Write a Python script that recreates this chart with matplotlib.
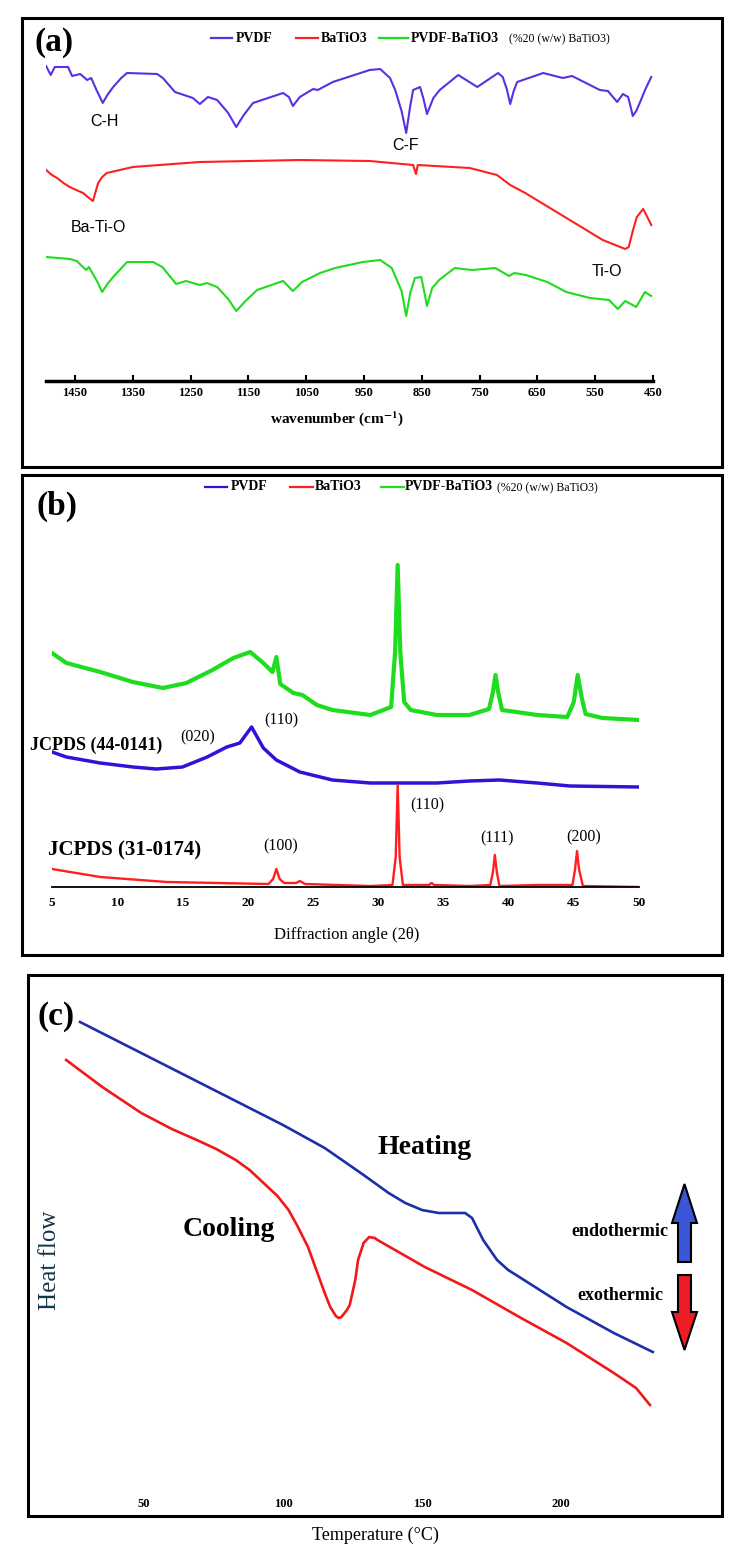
import numpy as np
import matplotlib
matplotlib.use("Agg")
import matplotlib.pyplot as plt
from matplotlib.patches import Rectangle, Polygon
from matplotlib.lines import Line2D

plt.rcParams['font.family'] = ['Liberation Serif', 'DejaVu Serif']
plt.rcParams['mathtext.fontset'] = 'stix'

W, H = 739, 1562

# ---------------- (a) FTIR, wavenumber (cm-1) vs transmittance (a.u.)
ftir_pvdf_wn = [1500, 1492, 1485, 1462, 1455, 1441, 1429, 1422, 1412, 1402, 1394, 1384, 1370, 1360, 1308,
                1298, 1277, 1246, 1234, 1220, 1204, 1185, 1171, 1158, 1142, 1090, 1080, 1073, 1061, 1038,
                1030, 1004, 940, 922, 905, 896, 885, 877, 870, 865, 853, 847, 841, 830, 819, 787, 754,
                718, 710, 703, 697, 691, 685, 640, 606, 590, 542, 528, 512, 502, 493, 489, 485, 479,
                473, 463, 453]
ftir_pvdf = [315, 306, 314, 314, 305, 307, 301, 303, 290, 278, 286, 294, 303, 308, 307,
             303, 289, 283, 277, 284, 281, 268, 254, 266, 278, 288, 284, 275, 284, 292,
             291, 299, 311, 312, 303, 291, 270, 248, 275, 291, 294, 282, 267, 283, 291, 306, 294,
             308, 304, 292, 277, 290, 299, 308, 303, 305, 291, 290, 279, 287, 284, 275, 265, 270,
             278, 292, 304]

ftir_bto_wn = [1500, 1490, 1481, 1470, 1459, 1448, 1436, 1428, 1419, 1414, 1410, 1403, 1395, 1350, 1234,
               1061, 940, 865, 860, 857, 767, 720, 697, 671, 594, 537, 498, 492, 485, 478, 467, 459,
               453]
ftir_bto = [211, 206, 203, 198, 194, 191, 188, 184, 180, 190, 198, 204, 208, 214, 219,
            221, 220, 216, 207, 216, 213, 206, 196, 188, 161, 141, 132, 134, 150, 164, 172, 163,
            156]

ftir_comp_wn = [1500, 1459, 1447, 1431, 1426, 1412, 1403, 1394, 1384, 1360, 1315, 1299, 1275, 1258, 1234,
                1222, 1204, 1185, 1171, 1155, 1135, 1090, 1073, 1057, 1026, 1000, 952, 922, 902, 885,
                877, 870, 862, 851, 846, 841, 832, 820, 793, 763, 723, 699, 690, 670, 633, 600, 559,
                526, 511, 498, 479, 464, 453]
ftir_comp = [124, 122, 120, 111, 114, 100, 89, 97, 104, 119, 119, 114, 97, 100, 96,
             98, 94, 82, 70, 80, 91, 100, 90, 99, 108, 113, 119, 121, 113, 90,
             65, 88, 103, 104, 90, 75, 93, 101, 113, 111, 113, 105, 108, 106, 99, 89, 83,
             81, 72, 80, 74, 89, 85]

ftir_ticks = [1450, 1350, 1250, 1150, 1050, 950, 850, 750, 650, 550, 450]

# ---------------- (b) XRD, 2theta vs intensity (a.u.)
xrd_comp_tt = [5.0, 6.1, 8.7, 11.2, 13.5, 15.3, 17.3, 18.9, 20.2, 21.2, 21.9, 22.2, 22.5, 23.5, 24.2,
               25.3, 26.5, 29.4, 31.0, 31.3, 31.5, 31.7, 32.0, 32.5, 34.5, 37.0, 38.5, 38.8, 39.0,
               39.2, 39.5, 42.2, 44.5, 45.0, 45.3, 45.6, 45.9, 47.2, 50.0]
xrd_comp = [234, 224, 215, 205, 199, 204, 217, 229, 235, 224, 215, 230, 203, 194, 192,
            182, 177, 172, 180, 235, 322, 235, 185, 177, 172, 172, 178, 195, 212,
            195, 177, 172, 170, 185, 212, 190, 173, 169, 167]

xrd_pvdf_tt = [5.0, 6.1, 8.7, 11.2, 13.0, 15.0, 16.9, 18.4, 19.4, 20.3, 21.2, 22.2, 24.0, 26.5, 29.4,
               34.5, 37.0, 39.3, 42.2, 44.7, 50.0]
xrd_pvdf = [135, 130, 124, 120, 118, 120, 130, 140, 144, 160, 139, 127, 115, 107, 104,
            104, 106, 107, 104, 101, 100]

xrd_bto_tt = [5.0, 8.7, 13.8, 21.6, 21.95, 22.2, 22.45, 22.8, 23.7, 24.0, 24.4, 29.4, 31.1, 31.35,
              31.5, 31.65, 31.9, 33.9, 34.1, 34.3, 37.0, 38.6, 38.8, 38.95, 39.1, 39.3, 42.2,
              44.9, 45.1, 45.25, 45.4, 45.7, 50.0]
xrd_bto = [18, 10, 5, 3, 8, 18, 8, 4, 4, 6, 3, 1, 2, 30,
           102, 30, 2, 2, 4, 2, 1, 2, 15, 32, 15, 1, 2,
           2, 18, 36, 18, 1, 0]

xrd_ticks = [5, 10, 15, 20, 25, 30, 35, 40, 45, 50]

# ---------------- (c) DSC, temperature (C) vs heat flow (a.u.)
dsc_heat_T = [27, 66, 100, 115, 129, 138, 144, 150, 156, 165.5, 168, 172, 177, 181, 185, 202, 219, 233]
dsc_heat = [473, 418, 370, 347, 320, 302, 292, 285, 282, 282, 277, 255, 235, 225, 218, 188, 162, 143]

dsc_cool_T = [22, 35, 49, 60, 69, 76, 83, 88, 93, 98, 102, 105, 109, 112, 115, 117, 119, 120, 121,
              123, 124, 126, 127, 129, 131, 133, 134, 151, 168, 185, 202, 219, 227, 232]
dsc_cool = [435, 408, 382, 366, 355, 346, 335, 325, 312, 299, 285, 270, 248, 225, 202, 188, 179, 177, 178,
            185, 190, 215, 235, 252, 258, 257, 255, 228, 205, 178, 152, 122, 107, 90]

dsc_ticks = [50, 100, 150, 200]


def fx(x):
    return x / W


def fy(y):
    return 1 - y / H


def ptext(x, y, s, **kw):
    kw.setdefault('ha', 'center')
    kw.setdefault('va', 'center')
    fig.text(fx(x), fy(y), s, **kw)


def pline(x0, x1, y, c, lw=1.6):
    fig.lines.append(Line2D([fx(x0), fx(x1)], [fy(y), fy(y)], transform=fig.transFigure, color=c, lw=lw))


fig = plt.figure(figsize=(W / 100, H / 100), dpi=100)

# panel frames
for x0, y0, x1, y1 in [(22, 18, 722, 467), (22, 475, 722, 955), (28, 975, 722, 1516)]:
    fig.patches.append(Rectangle((fx(x0), fy(y1)), (x1 - x0) / W, (y1 - y0) / H,
                                 transform=fig.transFigure, fill=False, lw=2.2, ec='black'))

purple = '#5b2fe3'
red = '#ff1f1f'
green = '#1edc1e'

# ================= (a)
ax_a = fig.add_axes([fx(46.1), fy(381), (653 - 46.1) / W, (381 - 40) / H])
ax_a.plot(ftir_pvdf_wn, ftir_pvdf, color=purple, lw=1.5)
ax_a.plot(ftir_bto_wn, ftir_bto, color=red, lw=1.5)
ax_a.plot(ftir_comp_wn, ftir_comp, color=green, lw=1.5)
ax_a.set_xlim(1500, 450)
ax_a.set_ylim(0, 341)
for s in ['top', 'left', 'right']:
    ax_a.spines[s].set_visible(False)
ax_a.spines['bottom'].set_linewidth(2.5)
ax_a.set_yticks([])
ax_a.set_xticks(ftir_ticks)
ax_a.set_xticklabels([str(t) for t in ftir_ticks], fontsize=9, fontweight='bold')
ax_a.tick_params(axis='x', direction='in', length=4, width=1.5, pad=4)
ax_a.patch.set_alpha(0)

ptext(54, 43, '(a)', fontsize=24, fontweight='bold')
pline(211, 232, 38, purple)
ptext(236, 38, 'PVDF', ha='left', fontsize=10, fontweight='bold')
pline(296, 318, 38, red)
ptext(321, 38, 'BaTiO3', ha='left', fontsize=10, fontweight='bold')
pline(379, 408, 38, green)
ptext(411, 38, 'PVDF-BaTiO3', ha='left', fontsize=10, fontweight='bold')
ptext(509, 39, '(%20 (w/w) BaTiO3)', ha='left', fontsize=8.5)

for x, y, s in [(104, 122, 'C-H'), (406, 145, 'C-F'), (98, 227, 'Ba-Ti-O'), (607, 272, 'Ti-O')]:
    ptext(x, y, s, fontsize=11.5, family='Liberation Sans')
ptext(337, 419, r'wavenumber (cm$^{\mathbf{-1}}$)', fontsize=11, fontweight='bold')

# ================= (b)
blue_b = '#2e14d6'
ax_b = fig.add_axes([fx(52), fy(887), 587 / W, (887 - 540) / H])
ax_b.plot(xrd_comp_tt, xrd_comp, color=green, lw=3.0)
ax_b.plot(xrd_pvdf_tt, xrd_pvdf, color=blue_b, lw=2.5)
ax_b.plot(xrd_bto_tt, xrd_bto, color=red, lw=1.7)
ax_b.set_xlim(5, 50)
ax_b.set_ylim(0, 347)
for s in ['top', 'left', 'right']:
    ax_b.spines[s].set_visible(False)
ax_b.spines['bottom'].set_linewidth(1.3)
ax_b.set_yticks([])
ax_b.set_xticks(xrd_ticks)
ax_b.set_xticklabels([str(t) for t in xrd_ticks], fontsize=9.5, fontweight='bold')
ax_b.tick_params(axis='x', length=0, pad=7)
ax_b.patch.set_alpha(0)

ptext(57, 506, '(b)', fontsize=24, fontweight='bold')
pline(205, 227, 487, blue_b)
ptext(231, 487, 'PVDF', ha='left', fontsize=10, fontweight='bold')
pline(290, 313, 487, red)
ptext(315, 487, 'BaTiO3', ha='left', fontsize=10, fontweight='bold')
pline(381, 404, 487, green)
ptext(405, 487, 'PVDF-BaTiO3', ha='left', fontsize=10, fontweight='bold')
ptext(497, 488, '(%20 (w/w) BaTiO3)', ha='left', fontsize=8.5)

ptext(30, 745, 'JCPDS (44-0141)', ha='left', fontsize=13, fontweight='bold')
ptext(180, 737, '(020)', ha='left', fontsize=11.5)
ptext(281, 720, '(110)', fontsize=11.5)
ptext(48, 850, 'JCPDS (31-0174)', ha='left', fontsize=15, fontweight='bold')
ptext(281, 846, '(100)', fontsize=11.5)
ptext(427, 805, '(110)', fontsize=11.5)
ptext(497, 838, '(111)', fontsize=11.5)
ptext(584, 837, '(200)', fontsize=11.5)
ptext(347, 935, 'Diffraction angle (2θ)', fontsize=12)

# ================= (c)
blue_c = '#1c2fa8'
red_c = '#f21818'
ax_c = fig.add_axes([fx(60.6), fy(1495), (700 - 60.6) / W, (1495 - 1000) / H])
ax_c.plot(dsc_heat_T, dsc_heat, color=blue_c, lw=1.9)
ax_c.plot(dsc_cool_T, dsc_cool, color=red_c, lw=1.9)
ax_c.set_xlim(20, 250)
ax_c.set_ylim(0, 495)
for s in ax_c.spines.values():
    s.set_visible(False)
ax_c.set_yticks([])
ax_c.set_xticks(dsc_ticks)
ax_c.set_xticklabels([str(t) for t in dsc_ticks], fontsize=9, fontweight='bold')
ax_c.tick_params(axis='x', length=0, pad=2)
ax_c.patch.set_alpha(0)

ptext(56, 1016, '(c)', fontsize=24, fontweight='bold')
ptext(425, 1147, 'Heating', fontsize=20, fontweight='bold')
ptext(229, 1230, 'Cooling', fontsize=20, fontweight='bold')
ptext(50, 1260, 'Heat flow', fontsize=18, rotation=90, color='#14364a')
ptext(620, 1231, 'endothermic', fontsize=13, fontweight='bold')
ptext(620, 1296, 'exothermic', fontsize=13, fontweight='bold')
ptext(375, 1535, 'Temperature (°C)', fontsize=13)

up = [(684.5, 1184), (697, 1223), (691, 1223), (691, 1262), (678, 1262), (678, 1223), (672, 1223)]
down = [(684.5, 1350), (697, 1312), (691, 1312), (691, 1275), (678, 1275), (678, 1312), (672, 1312)]
for pts, c in [(up, '#3a55d6'), (down, '#ee1c24')]:
    fig.patches.append(Polygon([(fx(x), fy(y)) for x, y in pts], closed=True, transform=fig.transFigure,
                               fc=c, ec='black', lw=1.5))

fig.savefig('out.png', dpi=100, facecolor='white')
